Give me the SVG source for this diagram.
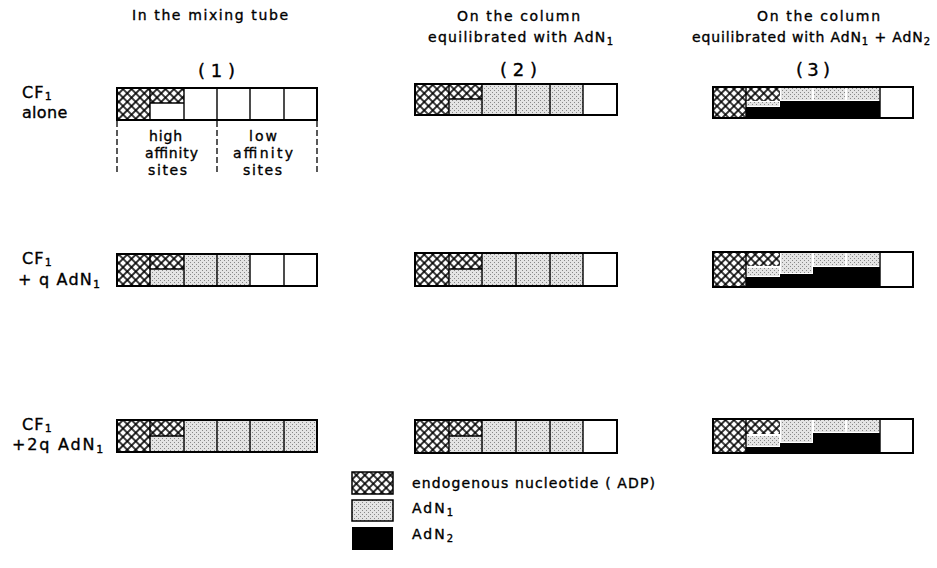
<svg xmlns="http://www.w3.org/2000/svg" width="937" height="568" viewBox="0 0 937 568">
<style>
.t{font-family:"DejaVu Sans","Liberation Sans",Arial,sans-serif;fill:#000;stroke:#000;stroke-width:0.35px;font-size:14px}
.big{font-size:18px}
.lab{font-size:16px;letter-spacing:1.2px}
.box{fill:none;stroke:#000;stroke-width:2}
.dv{stroke:#000;stroke-width:1.4;fill:none}
.h{fill:url(#hatch)}
.d{fill:url(#dots)}
.k{fill:#000}
.dash{stroke:#000;stroke-width:1.3;stroke-dasharray:6 3;fill:none}
</style>
<defs>
<pattern id="hatch" width="6" height="6" patternUnits="userSpaceOnUse" patternTransform="rotate(45)">
<rect width="6" height="6" fill="#fff"/>
<path d="M0 0H6M0 0V6M0 6H6M6 0V6" stroke="#000" stroke-width="1.6"/>
</pattern>
<pattern id="dots" width="4" height="4" patternUnits="userSpaceOnUse">
<rect width="4" height="4" fill="#e4e4e4"/>
<rect x="0" y="0" width="1" height="1" fill="#888"/>
<rect x="2" y="2" width="1" height="1" fill="#888"/>
</pattern>
</defs>
<rect width="937" height="568" fill="#fff"/>

<!-- headers -->
<g id="hdr1">
<text class="t" x="132" y="20" textLength="156" lengthAdjust="spacing">In the mixing tube</text>
<text class="t big" x="198" y="77" textLength="37" lengthAdjust="spacing">( 1 )</text>
</g>
<g id="hdr2">
<text class="t" x="457" y="21" textLength="123" lengthAdjust="spacing">On the column</text>
<text class="t" x="428" y="42" textLength="185" lengthAdjust="spacing">equilibrated with AdN<tspan font-size="10" dy="3">1</tspan></text>
<text class="t big" x="500" y="76" textLength="37" lengthAdjust="spacing">(2)</text>
</g>
<g id="hdr3">
<text class="t" x="757" y="21" textLength="123" lengthAdjust="spacing">On the column</text>
<text class="t" x="692" y="42" textLength="238" lengthAdjust="spacing">equilibrated with AdN<tspan font-size="10" dy="3">1</tspan><tspan dy="-3"> + AdN</tspan><tspan font-size="10" dy="3">2</tspan></text>
<text class="t big" x="796" y="76" textLength="34" lengthAdjust="spacing">(3)</text>
</g>

<!-- row labels -->
<g id="lab1">
<text class="t lab" x="22" y="98">CF<tspan font-size="11" dy="2">1</tspan></text>
<text class="t lab" x="22" y="118" style="letter-spacing:0.3px">alone</text>
</g>
<g id="lab2">
<text class="t lab" x="22" y="264">CF<tspan font-size="11" dy="2">1</tspan></text>
<text class="t lab" x="18" y="285">+ q AdN<tspan font-size="11" dy="3">1</tspan></text>
</g>
<g id="lab3">
<text class="t lab" x="22" y="430">CF<tspan font-size="11" dy="2">1</tspan></text>
<text class="t lab" x="12" y="450" style="letter-spacing:1.8px">+2q AdN<tspan font-size="11" dy="3">1</tspan></text>
</g>

<!-- column 1 -->
<g id="c1r1">
<rect class="h" x="117" y="88" width="33" height="32"/>
<rect class="h" x="150" y="88" width="34" height="15"/>
<path class="dv" d="M150 103H184M150 88V120M184 88V120M217 88V120M250 88V120M284 88V120"/>
<rect class="box" x="117" y="88" width="200" height="32"/>
</g>
<g id="c1r2">
<rect class="h" x="117" y="254" width="33" height="32"/>
<rect class="h" x="150" y="254" width="34" height="15"/>
<rect class="d" x="150" y="269" width="34" height="17"/>
<rect class="d" x="184" y="254" width="66" height="32"/>
<path class="dv" d="M150 269H184M150 254V286M184 254V286M217 254V286M250 254V286M284 254V286"/>
<rect class="box" x="117" y="254" width="200" height="32"/>
</g>
<g id="c1r3">
<rect class="h" x="117" y="420" width="33" height="32"/>
<rect class="h" x="150" y="420" width="34" height="16"/>
<rect class="d" x="150" y="436" width="34" height="16"/>
<rect class="d" x="184" y="420" width="133" height="32"/>
<path class="dv" d="M150 436H184M150 420V452M184 420V452M217 420V452M250 420V452M284 420V452"/>
<rect class="box" x="117" y="420" width="200" height="32"/>
</g>

<!-- column 2 -->
<g id="c2r1">
<rect class="h" x="415" y="84" width="34" height="31"/>
<rect class="h" x="449" y="84" width="33" height="15"/>
<rect class="d" x="449" y="99" width="33" height="16"/>
<rect class="d" x="482" y="84" width="101" height="31"/>
<path class="dv" d="M449 99H482M449 84V115M482 84V115M516 84V115M550 84V115M583 84V115"/>
<rect class="box" x="415" y="84" width="202" height="31"/>
</g>
<g id="c2r2">
<rect class="h" x="415" y="253" width="34" height="33"/>
<rect class="h" x="449" y="253" width="33" height="16"/>
<rect class="d" x="449" y="269" width="33" height="17"/>
<rect class="d" x="482" y="253" width="101" height="33"/>
<path class="dv" d="M449 269H482M449 253V286M482 253V286M516 253V286M550 253V286M583 253V286"/>
<rect class="box" x="415" y="253" width="202" height="33"/>
</g>
<g id="c2r3">
<rect class="h" x="415" y="420" width="34" height="33"/>
<rect class="h" x="449" y="420" width="33" height="16"/>
<rect class="d" x="449" y="436" width="33" height="17"/>
<rect class="d" x="482" y="420" width="101" height="33"/>
<path class="dv" d="M449 436H482M449 420V453M482 420V453M516 420V453M550 420V453M583 420V453"/>
<rect class="box" x="415" y="420" width="202" height="33"/>
</g>

<!-- column 3 -->
<g id="c3r1">
<rect class="h" x="713" y="87" width="33" height="31"/>
<rect class="h" x="746" y="87" width="34" height="14"/>
<rect class="d" x="747" y="102" width="32" height="4"/>
<rect class="k" x="746" y="107" width="34" height="11"/>
<rect class="d" x="781" y="87" width="31" height="13"/>
<rect class="d" x="814" y="87" width="31" height="13"/>
<rect class="d" x="847" y="87" width="32" height="13"/>
<rect class="k" x="780" y="101" width="100" height="17"/>
<path class="dv" d="M746 87V118M880 87V118"/>
<rect class="box" x="713" y="87" width="200" height="31"/>
</g>
<g id="c3r2">
<rect class="h" x="713" y="252" width="33" height="35"/>
<rect class="h" x="746" y="252" width="34" height="14"/>
<rect class="d" x="747" y="268" width="32" height="8"/>
<rect class="k" x="746" y="277" width="34" height="10"/>
<rect class="d" x="781" y="252" width="31" height="21"/>
<rect class="k" x="780" y="274" width="33" height="13"/>
<rect class="d" x="814" y="252" width="31" height="14"/>
<rect class="d" x="847" y="252" width="32" height="14"/>
<rect class="k" x="813" y="267" width="67" height="20"/>
<path class="dv" d="M746 252V287M880 252V287"/>
<rect class="box" x="713" y="252" width="200" height="35"/>
</g>
<g id="c3r3">
<rect class="h" x="713" y="419" width="33" height="34"/>
<rect class="h" x="746" y="419" width="34" height="15"/>
<rect class="d" x="747" y="436" width="32" height="10"/>
<rect class="k" x="746" y="447" width="34" height="6"/>
<rect class="d" x="781" y="419" width="31" height="23"/>
<rect class="k" x="780" y="443" width="33" height="10"/>
<rect class="d" x="814" y="419" width="31" height="13"/>
<rect class="d" x="847" y="419" width="32" height="13"/>
<rect class="k" x="813" y="433" width="67" height="20"/>
<path class="dv" d="M746 419V453M880 419V453"/>
<rect class="box" x="713" y="419" width="200" height="34"/>
</g>

<!-- site groupings -->
<g id="connectors">
<path class="dash" d="M117 121V172M217 121V172M317 121V172"/>
</g>
<g id="sites">
<text class="t" x="149" y="141" textLength="33" lengthAdjust="spacing">high</text>
<text class="t" x="145" y="158" textLength="53" lengthAdjust="spacing">affinity</text>
<text class="t" x="148" y="175" textLength="39" lengthAdjust="spacing">sites</text>
<text class="t" x="249" y="141" textLength="28" lengthAdjust="spacing">low</text>
<text class="t" x="233" y="158" textLength="60" lengthAdjust="spacing">affinity</text>
<text class="t" x="243" y="175" textLength="39" lengthAdjust="spacing">sites</text>
</g>

<!-- legend -->
<g id="legend">
<rect class="h" x="352" y="472" width="41" height="22" stroke="#000" stroke-width="1.5"/>
<rect class="d" x="352" y="500" width="41" height="21" stroke="#000" stroke-width="1.5"/>
<rect class="k" x="352" y="527" width="41" height="23"/>
<text class="t" x="412" y="488" textLength="243" lengthAdjust="spacing">endogenous nucleotide ( ADP)</text>
<text class="t" x="412" y="513" textLength="41" lengthAdjust="spacing">AdN<tspan font-size="10" dy="3">1</tspan></text>
<text class="t" x="412" y="539" textLength="41" lengthAdjust="spacing">AdN<tspan font-size="10" dy="3">2</tspan></text>
</g>
</svg>
